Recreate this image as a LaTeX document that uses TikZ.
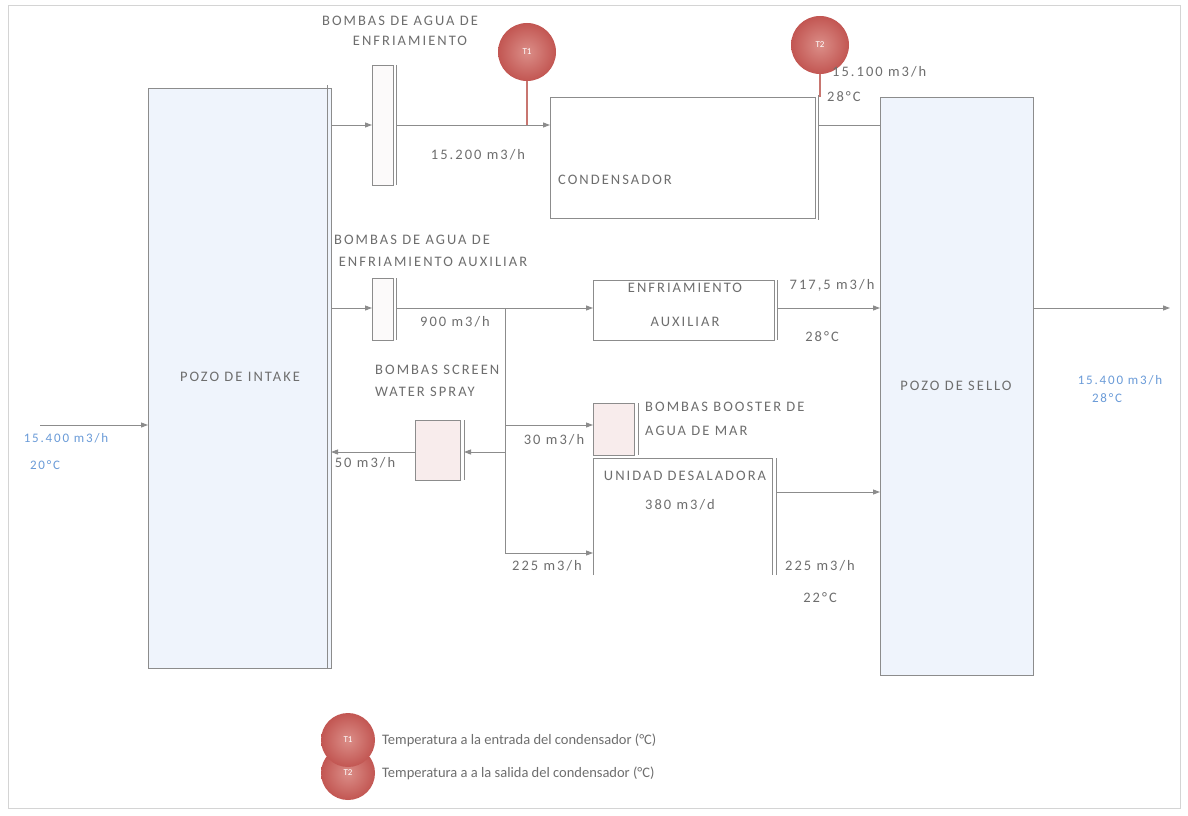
\documentclass[tikz,border=0pt]{standalone}
\usepackage{fontspec}
\setmainfont{Carlito}
\newfontfamily\lblfont[LetterSpace=14]{Carlito}
\newfontfamily\legfont{Carlito}
\usetikzlibrary{arrows.meta}
\definecolor{linec}{HTML}{8C8C8C}
\definecolor{framec}{HTML}{D4D4D4}
\definecolor{txtc}{HTML}{6E6E6E}
\definecolor{pozof}{HTML}{EFF4FC}
\definecolor{bluet}{HTML}{6A9BD8}
\definecolor{circi}{HTML}{DB8E88}
\definecolor{circo}{HTML}{C25652}
\definecolor{redl}{HTML}{C87670}
\definecolor{pinkf}{HTML}{F8ECEC}
\definecolor{unitf}{HTML}{FCFAFA}
\begin{document}
\begin{tikzpicture}[x=1pt,y=-1pt,
  ln/.style={draw=linec, line width=0.9pt},
  arr/.style={ln, -{Triangle[length=7pt,width=5pt]}},
  pozo/.style={draw=linec, line width=0.8pt, fill=pozof, anchor=north west, inner sep=0pt, outer sep=0pt},
  unit/.style={draw=linec, line width=0.8pt, fill=unitf, anchor=north west, inner sep=0pt, outer sep=0pt},
  lbl/.style={text=txtc, font=\lblfont\fontsize{14.5}{16}\selectfont, inner sep=0pt},
  blbl/.style={lbl, text=bluet, font=\lblfont\fontsize{13}{15}\selectfont},
  tcirc/.style={circle, minimum size=58pt, inner sep=0pt, shade, inner color=circi, outer color=circo, text=white, font=\fontsize{9}{10}\selectfont},
  leg/.style={text=txtc, font=\legfont\fontsize{14.5}{16}\selectfont, inner sep=0pt, anchor=west},
  rl/.style={draw=redl, line width=1.2pt}
]
\useasboundingbox (0,0) rectangle (1188,816);
\fill[white] (0,0) rectangle (1188,816);
\draw[framec, line width=1pt] (8,6) rectangle (1180,808);

% level coordinates
\coordinate (r1) at (0,125);
\coordinate (r2) at (0,308);
\coordinate (rb) at (0,425);
\coordinate (rs) at (0,452);
\coordinate (rd) at (0,553);
\coordinate (rdo) at (0,492);

% wells
\node[pozo, minimum width=183pt, minimum height=580pt] (intake) at (148,88) {};
\draw[ln] ([xshift=-4pt,yshift=3pt]intake.north east) -- ([xshift=-4pt]intake.south east);
\node[lbl] (intakel) at (240,377) {POZO DE INTAKE};
\node[pozo, minimum width=153pt, minimum height=578pt] (sello) at (880,97) {};
\node[lbl] (sellol) at (956,386) {POZO DE SELLO};

% pump 1 and condenser
\node[unit, minimum width=21pt, minimum height=120pt] (p1) at (372,65) {};
\draw[ln] ([xshift=3.5pt]p1.north east) -- ([xshift=3.5pt]p1.south east);
\node[lbl] (p1a) at (400,21) {BOMBAS DE AGUA DE};
\node[lbl] (p1b) at (410,41) {ENFRIAMIENTO};
\node[unit, fill=white, minimum width=265pt, minimum height=121pt] (cond) at (550,97) {};
\node[lbl] (condl) at (615,180) {CONDENSADOR};
\draw[ln] ([xshift=3pt,yshift=2pt]cond.north east) -- ([xshift=3pt,yshift=-2pt]cond.south east);

\node[tcirc] (t1) at (527,52) {T1};
\draw[rl] (t1.south) -- (t1.south |- r1);
\node[tcirc] (t2) at (820,45) {T2};
\draw[rl] (t2.south) -- (t2.south |- cond.north);

\draw[arr] (intake.east |- r1) -- (p1.west |- r1);
\draw[arr] ([xshift=3.5pt]p1.east |- r1) -- (cond.west |- r1);
\node[lbl] (q1) at (478,155) {15.200 m3/h};
\draw[ln] ([xshift=3pt]cond.east |- r1) -- (sello.west |- r1);
\node[lbl, anchor=west] (q2) at (832,72) {15.100 m3/h};
\node[lbl, anchor=west] (q2t) at (827,97) {28°C};

% pump 2 and auxiliary cooling
\node[unit, minimum width=21pt, minimum height=62pt] (p2) at (372,278) {};
\draw[ln] ([xshift=3.5pt]p2.north east) -- ([xshift=3.5pt]p2.south east);
\node[lbl] (p2a) at (412,240) {BOMBAS DE AGUA DE};
\node[lbl] (p2b) at (433,262) {ENFRIAMIENTO AUXILIAR};
\node[unit, fill=white, minimum width=181pt, minimum height=60pt] (enf) at (593,280) {};
\draw[ln] ([xshift=3.5pt]enf.north east) -- ([xshift=3.5pt]enf.south east);
\node[lbl] (enfa) at (685,288) {ENFRIAMIENTO};
\node[lbl] (enfb) at (685,322) {AUXILIAR};
\draw[arr] (intake.east |- r2) -- (p2.west |- r2);
\draw[arr] ([xshift=3.5pt]p2.east |- r2) -- (enf.west |- r2);
\node[lbl] (q3) at (455,322) {900 m3/h};
\draw[arr] ([xshift=3.5pt]enf.east |- r2) -- (sello.west |- r2);
\node[lbl] (q4) at (832,285) {717,5 m3/h};
\node[lbl] (q4t) at (822,337) {28°C};

% booster, screen, desalination
\node[unit, fill=pinkf, minimum width=41pt, minimum height=52pt] (boost) at (593,403) {};
\draw[ln] ([xshift=4pt]boost.north east) -- ([xshift=4pt]boost.south east);
\node[lbl, anchor=west] (boa) at (645,407) {BOMBAS BOOSTER DE};
\node[lbl, anchor=west] (bob) at (645,431) {AGUA DE MAR};
\node[unit, fill=pinkf, minimum width=45pt, minimum height=60pt] (screen) at (415,420) {};
\draw[ln] ([xshift=4pt]screen.north east) -- ([xshift=4pt]screen.south east);
\node[lbl, anchor=west] (sca) at (375,370) {BOMBAS SCREEN};
\node[lbl, anchor=west] (scb) at (375,392) {WATER SPRAY};
\node[inner sep=0pt, outer sep=0pt, anchor=north west, minimum width=180pt, minimum height=117pt] (desal) at (593,458) {};
\draw[ln] (desal.south west) -- (desal.north west) -- (desal.north east);
\draw[ln] ([xshift=-1pt]desal.north east) -- ([xshift=-1pt]desal.south east);
\draw[ln] ([xshift=3pt]desal.north east) -- ([xshift=3pt]desal.south east);
\node[lbl] (dea) at (685,476) {UNIDAD DESALADORA};
\node[lbl] (deb) at (680,505) {380 m3/d};

\coordinate (b0) at (505,308);
\coordinate (b1) at (505,553);
\draw[ln] (b0) -- (b1);
\draw[arr] (b1) -- (desal.west |- b1);
\draw[arr] (b0 |- rb) -- (boost.west |- rb);
\node[lbl] (q5) at (554,440) {30 m3/h};
\draw[arr] (b0 |- rs) -- ([xshift=4pt]screen.east |- rs);
\draw[arr] (screen.west |- rs) -- (intake.east |- rs);
\node[lbl] (q6) at (365,463) {50 m3/h};
\node[lbl] (q7) at (547,566) {225 m3/h};
\draw[arr] ([xshift=3pt]desal.east |- rdo) -- (sello.west |- rdo);
\node[lbl] (q8) at (820,566) {225 m3/h};
\node[lbl] (q8t) at (820,598) {22°C};

% inlet / outlet
\coordinate (src) at (40,425);
\draw[arr] (src) -- (src -| intake.west);
\node[blbl] (qin) at (66,438) {15.400 m3/h};
\node[blbl] (qint) at (45,465) {20°C};
\coordinate (snk) at (1170,308);
\draw[arr] (sello.east |- snk) -- (snk);
\node[blbl] (qout) at (1120,380) {15.400 m3/h};
\node[blbl] (qoutt) at (1107,398) {28°C};

% legend
\node[tcirc, minimum size=54pt] (l2) at (348,773) {T2};
\node[tcirc, minimum size=54pt] (l1) at (348,740) {T1};
\node[leg] (l1t) at (382,740) {Temperatura a la entrada del condensador (°C)};
\node[leg] (l2t) at (382,773) {Temperatura a a la salida del condensador (°C)};
\end{tikzpicture}
\end{document}
